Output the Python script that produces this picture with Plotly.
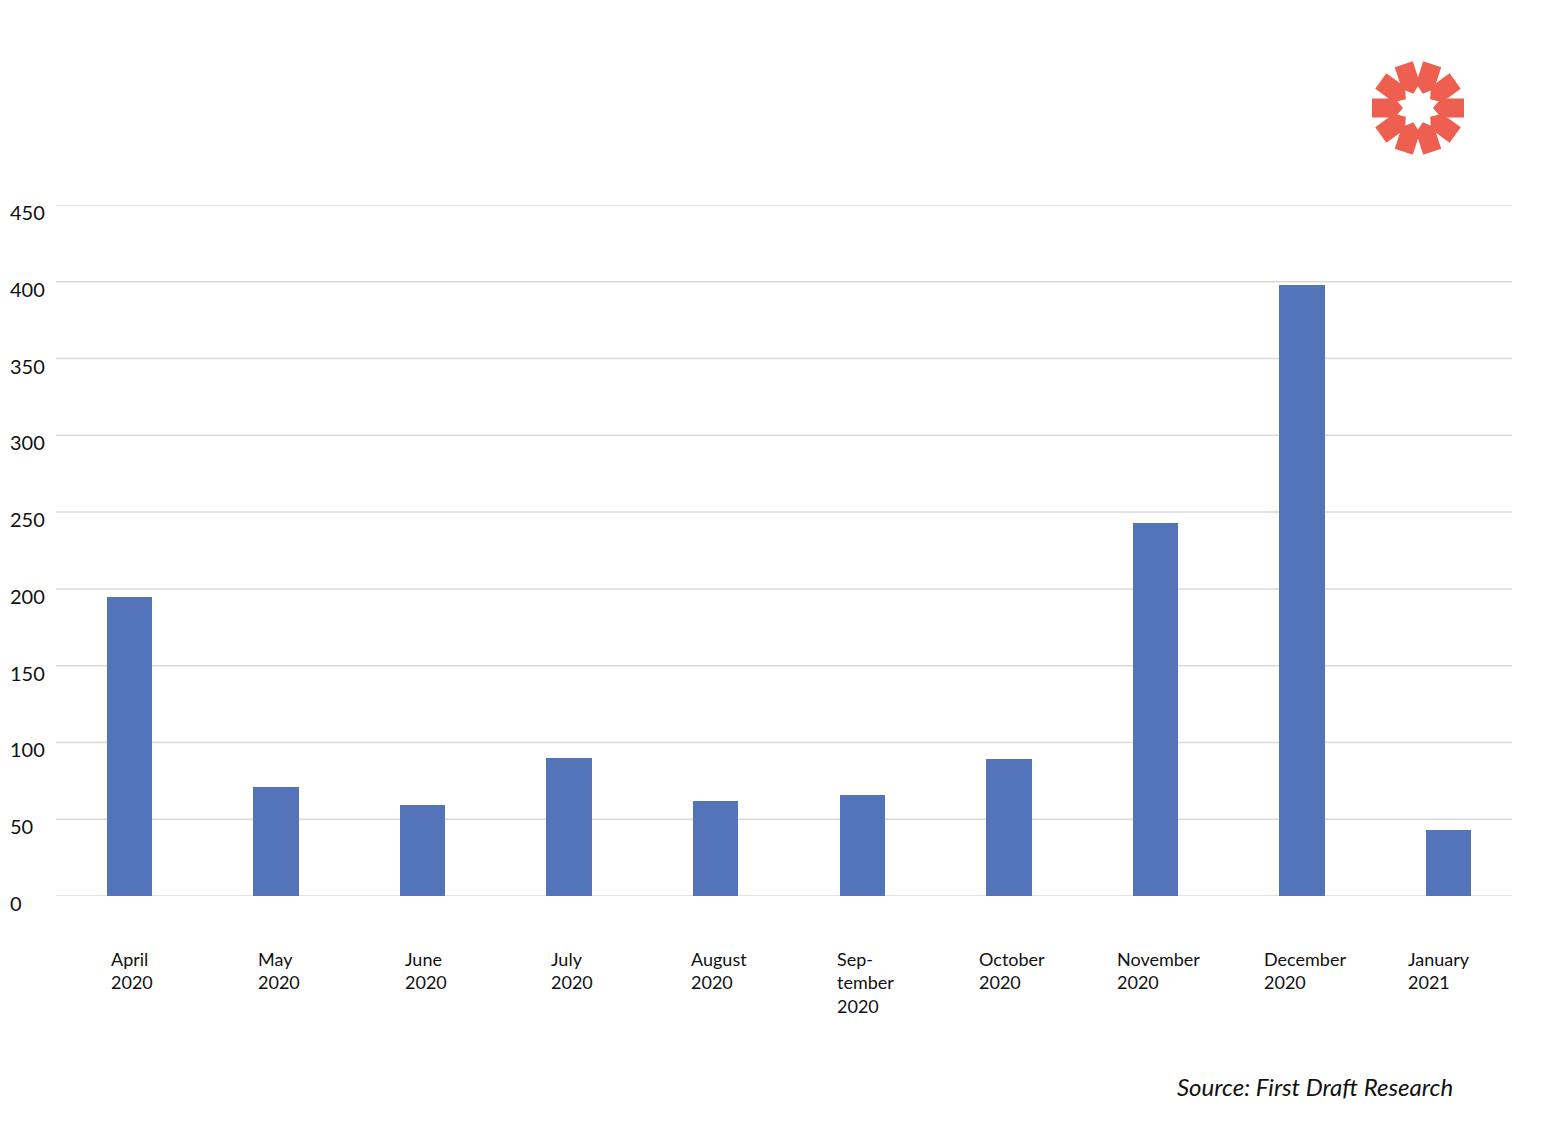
import math
import plotly.graph_objects as go

categories = ["April<br>2020", "May<br>2020", "June<br>2020", "July<br>2020", "August<br>2020",
              "Sep-<br>tember<br>2020", "October<br>2020", "November<br>2020", "December<br>2020",
              "January<br>2021"]
values = [195, 71, 59, 90, 62, 66, 89, 243, 398, 43]
y_ticks = [0, 50, 100, 150, 200, 250, 300, 350, 400, 450]
source_text = "Source: First Draft Research"

BAR = "#5474BA"
LOGO = "#EE5F50"
GRID = "#DADADA"
FONT = "Lato"

OFF = 8  # page body margin
W, H = 1542 - OFF, 1126 - OFF
PL, PR, PT, PB = 56, 1522, 205, 896
L, T = PL - OFF, PT - OFF
R, B = W - (PR - OFF), H - (PB - OFF)
pw, ph = PR - PL, PB - PT

def px(xabs):
    return (xabs - PL) / pw

def py(yabs):
    return (PB - yabs) / ph

xs = list(range(len(categories)))
fig = go.Figure(go.Bar(x=xs, y=values, marker_color=BAR, marker_line_width=0, width=0.31))

shapes = []
for t in y_ticks:
    shapes.append(dict(type="line", xref="paper", yref="y", x0=0, x1=px(1512), y0=t, y1=t,
                       line=dict(color=GRID, width=1.5), layer="below"))

# logo: 10 petals
cx, cy = px(1418), py(108)
petal = [(46, -9.5), (46, 9.5), (23, 9.5), (15, 0), (23, -9.5)]
for k in range(10):
    th = math.radians(36 * k)
    pts = [(u * math.cos(th) - v * math.sin(th), u * math.sin(th) + v * math.cos(th)) for u, v in petal]
    path = "M " + " L ".join(f"{x:.2f},{y:.2f}" for x, y in pts) + " Z"
    shapes.append(dict(type="path", xref="paper", yref="paper", xsizemode="pixel", ysizemode="pixel",
                       xanchor=cx, yanchor=cy, path=path, fillcolor=LOGO, line=dict(width=0)))

annotations = []
for t in y_ticks:
    annotations.append(dict(xref="paper", yref="y", x=px(8), y=t, yshift=-7, xanchor="left",
                            yanchor="middle", text=str(t), showarrow=False,
                            font=dict(family=FONT, size=20, color="#111111")))
for i, c in enumerate(categories):
    shift = 3 if i < len(categories) - 1 else -10
    annotations.append(dict(xref="x", yref="paper", x=i, y=0, xshift=shift, yshift=-50, xanchor="center",
                            yanchor="top", align="left", text=c, showarrow=False,
                            font=dict(family=FONT, size=18, color="#111111")))
annotations.append(dict(xref="paper", yref="paper", x=px(1455), y=py(1086),
                        xanchor="right", yanchor="middle", text=f"<i>{source_text}</i>", showarrow=False,
                        font=dict(family=FONT, size=24, color="#111111")))

fig.update_layout(
    width=W, height=H, margin=dict(l=L, r=R, t=T, b=B),
    paper_bgcolor="white", plot_bgcolor="white", showlegend=False,
    xaxis=dict(range=[-0.5, 9.5], showticklabels=False, showgrid=False, zeroline=False, ticks=""),
    yaxis=dict(range=[0, 450], showticklabels=False, showgrid=False, zeroline=False, ticks=""),
    shapes=shapes, annotations=annotations, bargap=0,
)
fig.write_html("out.html")
